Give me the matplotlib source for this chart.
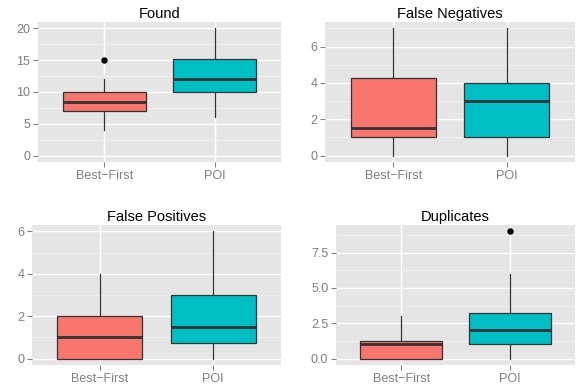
import numpy as np
import matplotlib
matplotlib.use("Agg")
import matplotlib.pyplot as plt
from matplotlib.ticker import MultipleLocator, FormatStrFormatter

plt.rcParams['font.family'] = ['Liberation Sans', 'DejaVu Sans']

# --- data ---
groups = ['Best\u2212First', 'POI']
titles = ['Found', 'False Negatives', 'False Positives', 'Duplicates']

# per panel: [Best-First, POI]
q1 = [[7, 10], [1, 1], [0, 0.75], [0, 1]]
med = [[8.5, 12], [1.5, 3], [1, 1.5], [1, 2]]
q3 = [[10, 15.25], [4.25, 4], [2, 3], [1.25, 3.25]]
whis_lo = [[4, 6], [0, 0], [0, 0], [0, 0]]
whis_hi = [[12, 20], [7, 7], [4, 6], [3, 6]]
outliers = [[[15], []], [[], []], [[], []], [[], [9]]]

y_max = [20, 7, 6, 9]
y_step = [5, 2, 2, 2.5]
y_fmt = ['%d', '%d', '%d', '%.1f']

fill_colors = ['#F8766D', '#00BFC4']

# panel rectangles in pixels: (left, top, right, bottom)
W, H = 577, 385
rects = [(38, 22, 281, 162), (325, 22, 575, 162),
         (32, 225, 281, 365), (336, 225, 575, 365)]

fig = plt.figure(figsize=(W / 100, H / 100), dpi=100)

for i, (l, t, r, b) in enumerate(rects):
    ax = fig.add_axes([l / W, 1 - b / H, (r - l) / W, (b - t) / H])
    ax.set_facecolor('#E5E5E5')

    stats = []
    for j in range(2):
        stats.append(dict(med=med[i][j], q1=q1[i][j], q3=q3[i][j],
                          whislo=whis_lo[i][j], whishi=whis_hi[i][j],
                          fliers=outliers[i][j]))
    bp = ax.bxp(stats, positions=[1, 2], widths=0.75, patch_artist=True,
                showcaps=False,
                boxprops=dict(edgecolor='#333333', linewidth=0.9),
                whiskerprops=dict(color='#333333', linewidth=0.9),
                medianprops=dict(color='#333333', linewidth=2.0),
                flierprops=dict(marker='o', markerfacecolor='black',
                                markeredgecolor='black', markersize=3.6))
    for patch, c in zip(bp['boxes'], fill_colors):
        patch.set_facecolor(c)
        patch.set_zorder(3)
    for m in bp['medians']:
        m.set_zorder(4)
        m.set_solid_capstyle('butt')

    pad = y_max[i] * 0.05
    ax.set_ylim(-pad, y_max[i] + pad)
    ax.set_xlim(0.4, 2.6)
    ax.set_xticks([1, 2])
    ax.set_xticklabels(groups)
    ax.yaxis.set_major_locator(MultipleLocator(y_step[i]))
    ax.yaxis.set_minor_locator(MultipleLocator(y_step[i] / 2))
    ax.yaxis.set_major_formatter(FormatStrFormatter(y_fmt[i]))

    ax.grid(True, which='major', color='white', linewidth=1.0, zorder=0)
    ax.grid(True, which='minor', axis='y', color='#F2F2F2', linewidth=0.5, zorder=0)
    ax.set_axisbelow(True)

    for s in ax.spines.values():
        s.set_visible(False)
    ax.tick_params(axis='both', which='major', colors='#7F7F7F', length=3.5,
                   width=0.8, labelsize=9, pad=2)
    ax.tick_params(axis='y', which='minor', length=0)
    ax.set_title(titles[i], fontsize=10.5, color='black', pad=3)

fig.savefig('out.png', dpi=100)
